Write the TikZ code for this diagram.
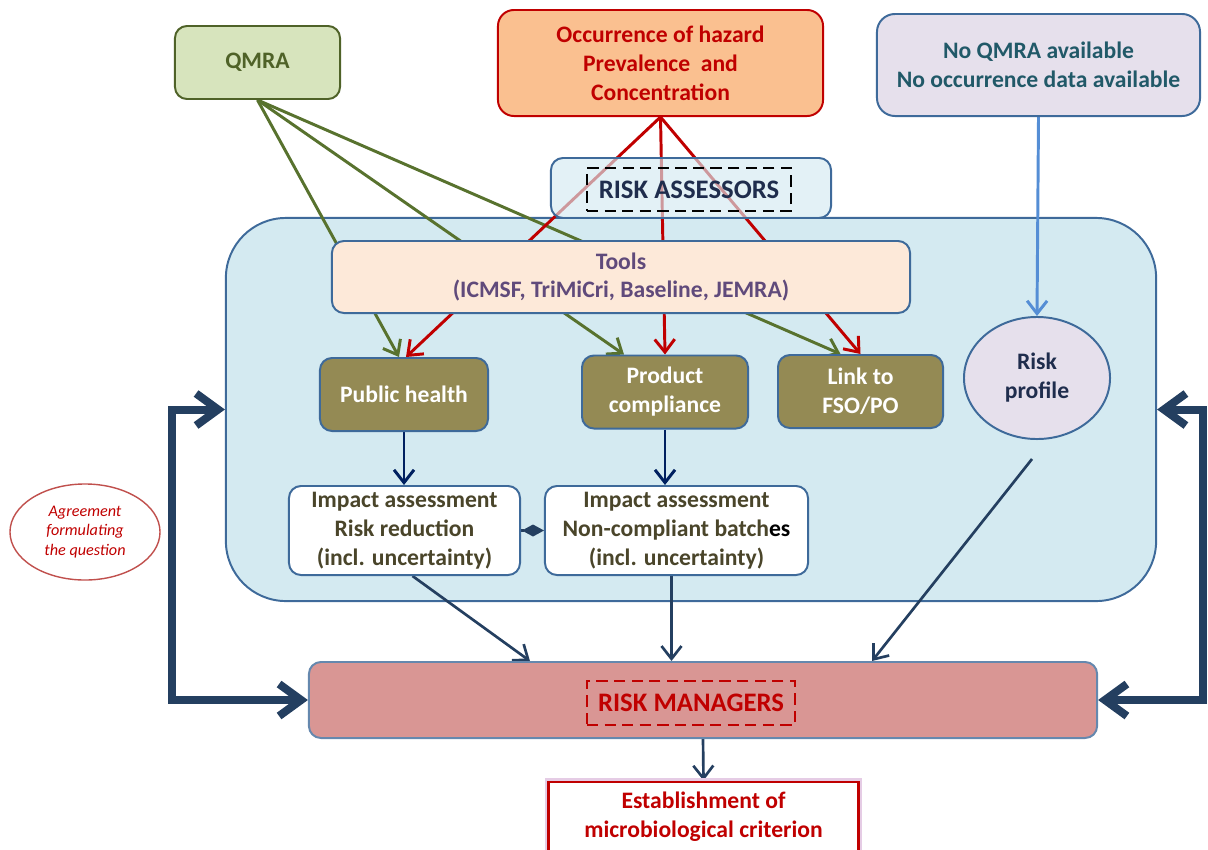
\documentclass[tikz,border=0pt]{standalone}
\usepackage{fontspec}
\setmainfont{Carlito}
\usetikzlibrary{arrows.meta,shapes.geometric}
\pgfdeclarelayer{back}
\pgfdeclarelayer{lines}
\pgfsetlayers{back,lines,main}
\definecolor{qgreen}{RGB}{215,228,189}
\definecolor{qdark}{RGB}{79,98,40}
\definecolor{qline}{RGB}{88,114,46}
\definecolor{hzfill}{RGB}{250,192,144}
\definecolor{hzred}{RGB}{192,0,0}
\definecolor{lav}{RGB}{230,224,236}
\definecolor{nqtext}{RGB}{33,89,104}
\definecolor{skyfill}{RGB}{212,234,241}
\definecolor{edge}{RGB}{62,106,154}
\definecolor{peach}{RGB}{253,233,217}
\definecolor{tooltext}{RGB}{96,74,123}
\definecolor{olivebox}{RGB}{148,138,84}
\definecolor{impacttext}{RGB}{74,69,42}
\definecolor{navy}{RGB}{0,32,96}
\definecolor{darknavy}{RGB}{36,63,96}
\definecolor{pinkfill}{RGB}{217,150,148}
\definecolor{skyline}{RGB}{85,142,213}
\definecolor{rptext}{RGB}{31,45,77}
\definecolor{ovalred}{RGB}{192,80,77}
\newcommand\boxfont{\fontsize{16.8}{20.6}\selectfont\bfseries}
\newcommand\tagfont{\fontsize{19}{22}\selectfont\bfseries}
\tikzset{
  card/.style={draw=edge, line width=1.4pt, rounded corners=0.3cm, align=center, font=\boxfont, inner sep=0pt},
  dashbox/.style={draw, dashed, dash pattern=on 8pt off 4.5pt, line width=2pt, align=center, font=\tagfont, inner sep=0pt},
  olive/.style={card, fill=olivebox, text=white, minimum width=4.15cm, minimum height=1.825cm},
  impact/.style={card, fill=white, text=impacttext, minimum height=2.225cm},
  tip/.style={-{Straight Barb[length=0.32cm,width=0.5cm]}},
  qarrow/.style={tip, draw=qline, line width=2.1pt},
  harrow/.style={tip, draw=hzred, line width=2.1pt},
  narrow/.style={tip, draw=navy, line width=2.1pt},
  darrow/.style={tip, draw=darknavy, line width=1.9pt},
  bigflow/.style={draw=darknavy, line width=5.7pt, {Straight Barb[length=0.55cm,width=0.8cm]}-{Straight Barb[length=0.55cm,width=0.8cm]}}
}
\begin{document}
\begin{tikzpicture}[x=0.025cm,y=-0.025cm]
\useasboundingbox (0,0) rectangle (1208,849);
\begin{pgfonlayer}{back}
\node[card, fill=skyfill, rounded corners=1.5cm, minimum width=23.25cm, minimum height=9.575cm] (panel) at (691,409.5) {};
\end{pgfonlayer}
\node[card, fill=qgreen, draw=qdark, text=qdark, minimum width=4.125cm, minimum height=1.825cm] (qmra) at (257.5,62.5) {QMRA};
\node[card, fill=hzfill, draw=hzred, text=hzred, rounded corners=0.4cm, minimum width=8.125cm, minimum height=2.65cm] (hazard) at (660.5,63) {Occurrence of hazard\\Prevalence\ \ and\\Concentration};
\node[card, fill=lav, text=nqtext, rounded corners=0.45cm, minimum width=8.075cm, minimum height=2.55cm] (noqmra) at (1038.5,65) {No QMRA available\\No occurrence data available};
\node[card, fill=skyfill, fill opacity=0.65, text opacity=1, minimum width=7cm, minimum height=1.5cm] (assess) at (691,188) {};
\node[dashbox, draw=black, text=rptext, minimum width=5.1cm, minimum height=1.075cm] (assesslabel) at (689,189.5) {RISK ASSESSORS};
\node[card, fill=peach, text=tooltext, minimum width=14.45cm, minimum height=1.8cm] (tools) at (621,277) {Tools\\(ICMSF, TriMiCri, Baseline, JEMRA)};
\node[olive, minimum width=4.2cm] (ph) at (404,394.5) {Public health};
\node[olive] (pc) at (665,392) {Product\\compliance};
\node[olive, minimum width=4.125cm] (link) at (860.5,391.5) {Link to\\FSO/PO};
\node[ellipse, draw=edge, line width=1.4pt, fill=lav, text=rptext, font=\boxfont, align=center, inner sep=0pt, minimum width=3.65cm, minimum height=3.05cm] (rp) at (1037,378) {Risk\\profile};
\node[impact, minimum width=5.775cm] (im1) at (404.5,530.5) {Impact assessment\\Risk reduction\\(incl. uncertainty)};
\node[impact, minimum width=6.575cm] (im2) at (676.5,530.5) {Impact assessment\\Non-compliant batch\textcolor{black}{es}\\(incl. uncertainty)};
\node[card, fill=pinkfill, draw=edge!80, minimum width=19.7cm, minimum height=1.9cm] (mg) at (703,700) {};
\node[dashbox, draw=hzred, text=hzred, minimum width=5.2cm, minimum height=1.1cm] (mglabel) at (691,703) {RISK MANAGERS};
\node[draw=hzred, line width=2pt, preaction={draw=violet!20, line width=5pt}, fill=white, text=hzred, font=\boxfont, align=center, minimum width=7.75cm, minimum height=1.75cm] (est) at (703.5,817) {Establishment of\\microbiological criterion};
\node[ellipse, draw=ovalred, line width=1pt, text=hzred, font=\fontsize{11.5}{13.6}\selectfont\itshape, align=center, inner sep=0pt, minimum width=3.75cm, minimum height=2.4cm] (agree) at (85,532) {Agreement\\formulating\\the question};
\coordinate (rpfoot) at (1032,459);
\coordinate (lefttop) at (172,409.5);
\coordinate (righttop) at (1203,409.5);
\begin{pgfonlayer}{lines}
\foreach \t/\s in {ph/-0.125,pc/-1.025,link/-0.5}
  \draw[qarrow] (qmra.south) -- ([xshift=\s cm]\t.north);
\foreach \t/\s in {ph/0.05,pc/0,link/0}
  \draw[harrow] (hazard.south) -- ([xshift=\s cm]\t.north);
\draw[tip, draw=skyline, line width=2.1pt] (noqmra.south) -- (rp.north);
\draw[narrow] (ph.south) -- (ph.south |- im1.north);
\draw[narrow] (pc.south) -- (pc.south |- im2.north);
\draw[draw=darknavy, line width=1.6pt, -{Diamond[length=0.55cm,width=0.3cm]}] (im1.east) -- (im2.west);
\draw[darrow] ([xshift=0.2cm]im1.south) -- ([xshift=-4.325cm]mg.north);
\draw[darrow] ([xshift=-0.125cm]im2.south) -- ([xshift=-0.7875cm]mg.north);
\draw[darrow] (rpfoot) -- ([xshift=4.225cm]mg.north);
\draw[darrow] (mg.south) -- (est.north);
\draw[bigflow] (panel.west) -- (lefttop) |- (mg.west);
\draw[bigflow] (panel.east) -- (righttop) |- (mg.east);
\end{pgfonlayer}
\end{tikzpicture}
\end{document}
